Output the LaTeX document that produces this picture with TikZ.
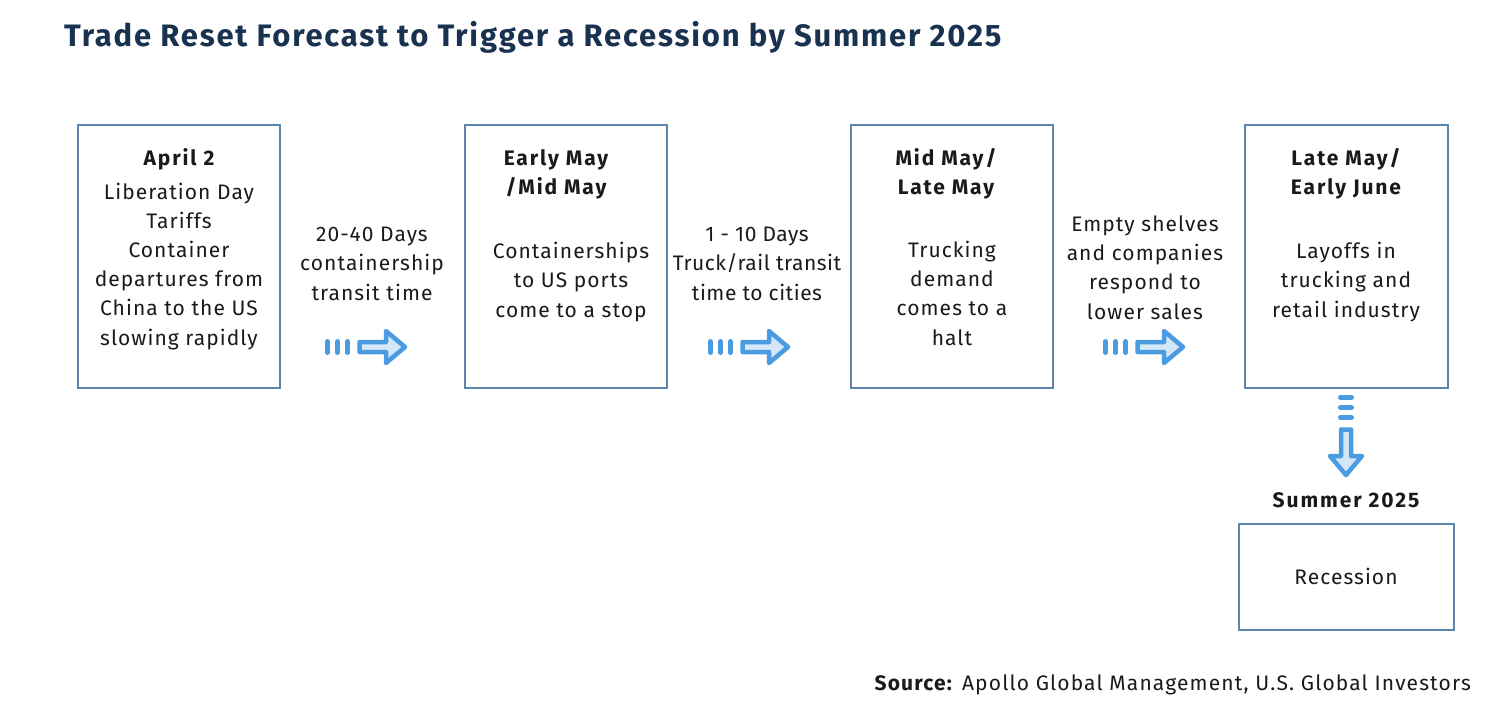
\documentclass[tikz,border=0pt]{standalone}
\usepackage{fontspec}
\setmainfont{Fira Sans}
\definecolor{titlecol}{HTML}{19324F}
\definecolor{boxcol}{HTML}{5C86AE}
\definecolor{arrcol}{HTML}{4A9BE0}
\definecolor{arrfill}{HTML}{D3E7F8}
\definecolor{txtcol}{HTML}{1A1A1A}
\tikzset{
  boxst/.style={draw=boxcol, line width=2pt, fill=white, inner sep=0pt},
  bodyst/.style={align=center, anchor=base, text=txtcol, inner sep=0pt, font=\fontsize{21}{29.2}\selectfont\addfontfeatures{LetterSpace=5}},
  headst/.style={bodyst, font=\bfseries\fontsize{21}{29}\selectfont\addfontfeatures{LetterSpace=9}},
  rarrow/.pic={
    \foreach \d in {2.5,12.5,22.5}
      \draw[arrcol, line width=5pt, line cap=round] (\d,-5.5) -- (\d,5.5);
    \draw[arrcol, fill=arrfill, line width=4.5pt, line join=round]
      (34.5,-5) -- (61,-5) -- (61,-16) -- (80,0) -- (61,16) -- (61,5) -- (34.5,5) -- cycle;
  }
}
\begin{document}
\begin{tikzpicture}[x=1pt,y=-1pt]
\useasboundingbox (0,0) rectangle (1496,718);
\node[anchor=base west, text=titlecol, inner sep=0pt, font=\bfseries\fontsize{31}{34}\selectfont\addfontfeatures{LetterSpace=5.8}] (title) at (64,46) {Trade Reset Forecast to Trigger a Recession by Summer 2025};

\node[boxst, minimum width=202pt, minimum height=263pt] (b1) at (179,256.5) {};
\node[boxst, minimum width=202pt, minimum height=263pt] (b2) at (566,256.5) {};
\node[boxst, minimum width=202pt, minimum height=263pt] (b3) at (952,256.5) {};
\node[boxst, minimum width=203pt, minimum height=263pt] (b4) at (1346.5,256.5) {};
\node[boxst, minimum width=215pt, minimum height=106pt] (b5) at (1346.5,577) {};

\node[headst] (h1) at (179,165) {April 2};
\node[bodyst] (t1) at (179,345) {Liberation Day\\Tariffs\\Container\\departures from\\China to the US\\slowing rapidly};

\node[headst] (h2) at (556,194) {Early May\\/Mid May};
\node[bodyst] (t2) at (571,317) {Containerships\\to US ports\\come to a stop};

\node[headst] (h3) at (946,194) {Mid May/\\Late May};
\node[bodyst] (t3) at (952,345) {Trucking\\demand\\comes to a\\halt};

\node[headst] (h4) at (1346,194) {Late May/\\Early June};
\node[bodyst] (t4) at (1346,317) {Layoffs in\\trucking and\\retail industry};

\node[bodyst] (l1) at (372,300) {20-40 Days\\containership\\transit time};
\node[bodyst, font=\fontsize{21}{29.2}\selectfont\addfontfeatures{LetterSpace=2.5}] (l2) at (757,300) {1 - 10 Days\\Truck/rail transit\\time to cities};
\node[bodyst] (l3) at (1145,319) {Empty shelves\\and companies\\respond to\\lower sales};

\pic at (325,347) {rarrow};
\pic at (708,347) {rarrow};
\pic at (1103,347) {rarrow};
\pic[rotate=-90] at (1346,395) {rarrow};

\node[headst] (h5) at (1346,507) {Summer 2025};
\node[bodyst] (t5) at (1346,584) {Recession};

\node[anchor=base east, inner sep=0pt, text=txtcol, font=\fontsize{21}{24}\selectfont\addfontfeatures{LetterSpace=5.5}] (src) at (1471,690) {\textbf{Source:} Apollo Global Management, U.S. Global Investors};
\end{tikzpicture}
\end{document}
